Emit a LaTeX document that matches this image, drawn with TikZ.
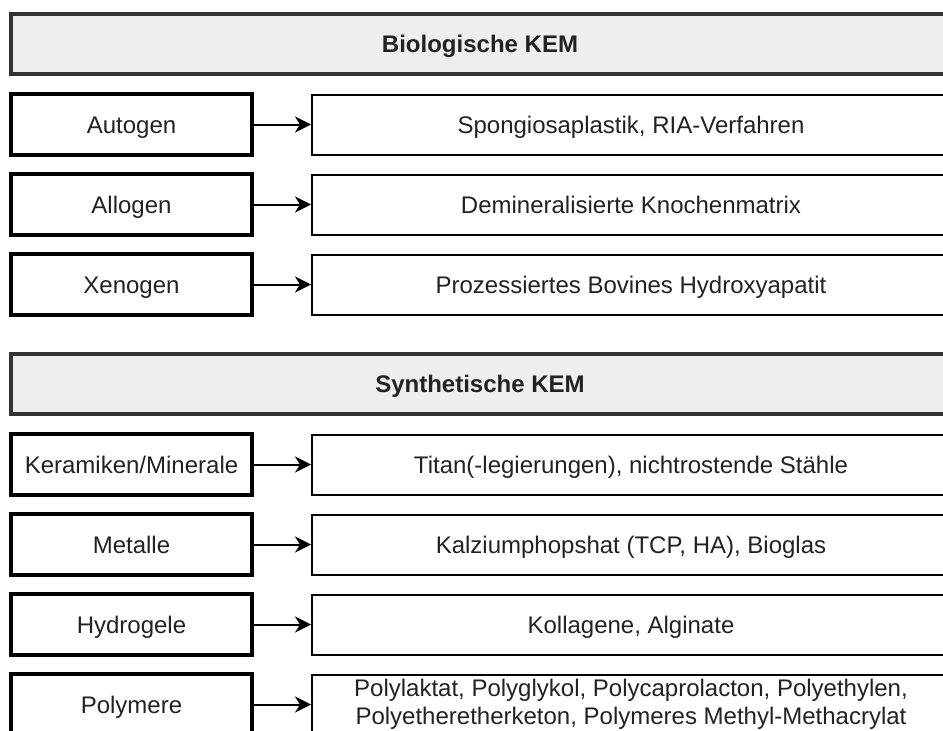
\documentclass[tikz,border=0pt]{standalone}
\usepackage{fontspec}
\setmainfont{Liberation Sans}
\usetikzlibrary{arrows.meta}

\definecolor{headfill}{HTML}{EEEEEE}
\definecolor{edgegray}{HTML}{333333}
\definecolor{txtgray}{HTML}{222222}

\tikzset{
  kategorie/.style={draw=edgegray, line width=3.5pt, fill=headfill,
    minimum width=938pt, minimum height=60pt, inner sep=0pt,
    text height=22pt, text depth=5pt,
    font=\fontsize{24}{28}\selectfont\bfseries, text=txtgray},
  klasse/.style={draw=black, line width=3.5pt, fill=white,
    minimum width=241pt, minimum height=61pt, inner sep=0pt,
    text height=22pt, text depth=5pt,
    font=\fontsize{24}{28}\selectfont, text=txtgray},
  beispiel/.style={draw=black, line width=2pt, fill=white,
    minimum width=638pt, minimum height=60pt, inner sep=0pt, align=center,
    text height=22pt, text depth=5pt,
    font=\fontsize{24}{28}\selectfont, text=txtgray},
  pfeil/.style={line width=2pt, -{Stealth[length=16pt,width=16pt,inset=5pt]}}
}

\begin{document}
\begin{tikzpicture}[x=1pt, y=-1pt]
  \useasboundingbox (0,0) rectangle (943,731);
  \clip (0,0) rectangle (943,731);

  % biologische KEM
  \node[kategorie] (h0) at (480,44) {Biologische KEM};
  \node[klasse] (k1) at (131.5,124.5) {Autogen};
  \node[klasse] (k2) at (131.5,204.5) {Allogen};
  \node[klasse] (k3) at (131.5,284.5) {Xenogen};
  \node[beispiel] (m1) at (631,124.5) {Spongiosaplastik, RIA-Verfahren};
  \node[beispiel] (m2) at (631,204.5) {Demineralisierte Knochenmatrix};
  \node[beispiel] (m3) at (631,284.5) {Prozessiertes Bovines Hydroxyapatit};

  % synthetische KEM
  \node[kategorie] (h1) at (480,384) {Synthetische KEM};
  \node[klasse] (k4) at (131.5,464.5) {Keramiken/Minerale};
  \node[klasse] (k5) at (131.5,544.5) {Metalle};
  \node[klasse] (k6) at (131.5,624.5) {Hydrogele};
  \node[klasse] (k7) at (131.5,704.5) {Polymere};
  \node[beispiel] (m4) at (631,464.5) {Titan(-legierungen), nichtrostende Stähle};
  \node[beispiel] (m5) at (631,544.5) {Kalziumphopshat (TCP, HA), Bioglas};
  \node[beispiel] (m6) at (631,624.5) {Kollagene, Alginate};
  \node[beispiel, text height={}, text depth={}] (m7) at (631,704.5)
    {Polylaktat, Polyglykol, Polycaprolacton, Polyethylen,\\
     Polyetheretherketon, Polymeres Methyl-Methacrylat};

  \begin{scope}[pfeil]
    \draw (k1) -- (m1);
    \draw (k2) -- (m2);
    \draw (k3) -- (m3);
    \draw (k4) -- (m4);
    \draw (k5) -- (m5);
    \draw (k6) -- (m6);
    \draw (k7) -- (m7);
  \end{scope}
\end{tikzpicture}
\end{document}
